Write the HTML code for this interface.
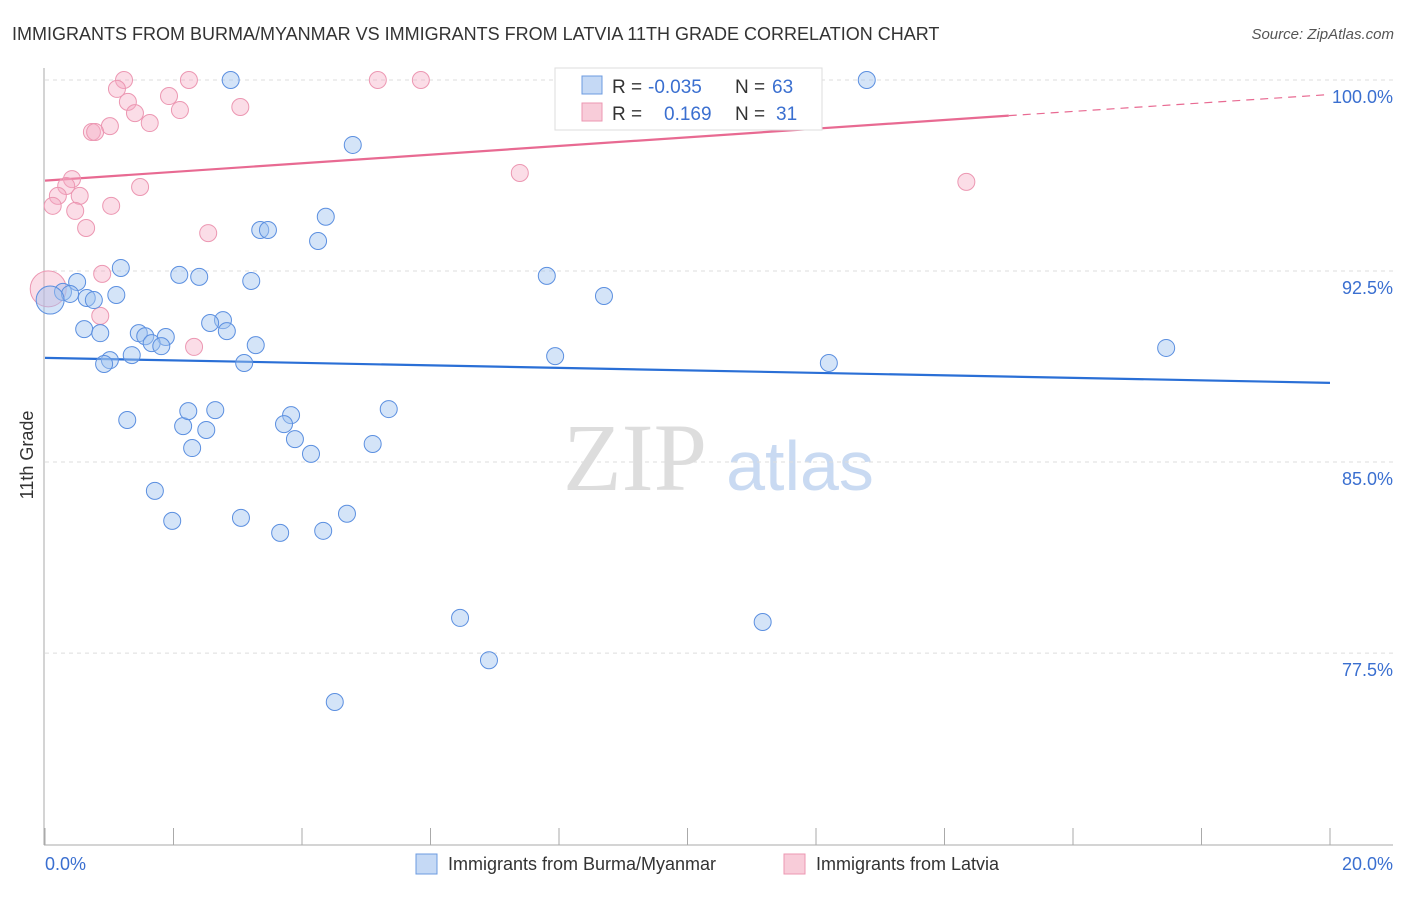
<!DOCTYPE html>
<html><head><meta charset="utf-8"><style>
body{margin:0;background:#fff;font-family:"Liberation Sans",sans-serif;}
</style></head><body>
<svg width="1406" height="892" viewBox="0 0 1406 892" xmlns="http://www.w3.org/2000/svg">
<text x="12" y="40" font-size="18" fill="#333">IMMIGRANTS FROM BURMA/MYANMAR VS IMMIGRANTS FROM LATVIA 11TH GRADE CORRELATION CHART</text>
<text x="1394" y="39" font-size="15" fill="#555" font-style="italic" text-anchor="end">Source: ZipAtlas.com</text>
<g>
<text x="635" y="490" font-size="96" font-family="Liberation Serif,serif" fill="#ddd" text-anchor="middle">ZIP</text>
<text x="800" y="490" font-size="70" fill="#c9daf2" text-anchor="middle">atlas</text>
</g>
<g id="grid"></g>
<g id="axes"></g>
<g id="lines"></g>
<g id="pts"></g>
<text transform="translate(33,455) rotate(-90)" font-size="18" fill="#333" text-anchor="middle">11th Grade</text>
<text x="45" y="870" font-size="18" fill="#3a6fd0">0.0%</text>
<text x="1393" y="870" font-size="18" fill="#3a6fd0" text-anchor="end">20.0%</text>
<g>
<rect x="555" y="68" width="267" height="62" fill="#fff" stroke="#ddd"/>
<rect x="582" y="76" width="20" height="18" fill="#c5d9f5" stroke="#6c9be0"/>
<rect x="582" y="103" width="20" height="18" fill="#f8ccd9" stroke="#ec97b2"/>
<text x="612" y="93" font-size="19" fill="#333">R =</text>
<text x="648" y="93" font-size="19" fill="#3a6fd0">-0.035</text>
<text x="735" y="93" font-size="19" fill="#333">N =</text>
<text x="772" y="93" font-size="19" fill="#3a6fd0">63</text>
<text x="612" y="120" font-size="19" fill="#333">R =</text>
<text x="664" y="120" font-size="19" fill="#3a6fd0">0.169</text>
<text x="735" y="120" font-size="19" fill="#333">N =</text>
<text x="776" y="120" font-size="19" fill="#3a6fd0">31</text>
</g>
<g>
<rect x="416" y="854" width="21" height="20" fill="#c5d9f5" stroke="#6c9be0"/>
<text x="448" y="870" font-size="18" fill="#333">Immigrants from Burma/Myanmar</text>
<rect x="784" y="854" width="21" height="20" fill="#f8ccd9" stroke="#ec97b2"/>
<text x="816" y="870" font-size="18" fill="#333">Immigrants from Latvia</text>
</g>
</svg>
<script>
const yTicks=[100,92.5,85,77.5];
const yTickLabels=["100.0%","92.5%","85.0%","77.5%"];
const xTicks=[0,2,4,6,8,10,12,14,16,18,20];
const blueX=[2.89,12.79,4.79,4.37,3.35,3.47,4.25,1.18,2.09,2.40,7.81,3.21,0.50,0.28,0.39,1.11,0.65,0.76,8.70,0.08,2.77,2.57,0.61,0.86,1.46,2.83,1.56,1.88,1.66,1.81,3.28,1.35,1.01,0.92,3.10,7.94,12.20,17.45,1.28,2.15,2.23,2.65,2.51,2.29,3.83,3.72,5.35,3.89,5.10,4.14,1.71,1.98,3.05,3.66,4.33,4.70,6.46,11.17,6.91,4.51];
const blueY=[100,100,97.45,94.63,94.11,94.11,93.68,92.62,92.35,92.27,92.31,92.11,92.07,91.68,91.60,91.56,91.44,91.36,91.52,91.36,90.57,90.46,90.22,90.06,90.06,90.14,89.94,89.91,89.67,89.55,89.59,89.20,89.00,88.85,88.89,89.16,88.89,89.48,86.65,86.41,87.00,87.04,86.26,85.55,86.84,86.49,87.08,85.90,85.71,85.32,83.87,82.69,82.81,82.22,82.30,82.97,78.88,78.72,77.22,75.58];
const pinkX=[1.23,2.24,5.18,5.85,1.12,1.29,1.93,3.04,2.10,1.40,1.01,1.63,0.73,0.78,7.39,14.34,0.42,0.33,1.48,0.20,0.54,0.12,1.03,0.47,0.64,2.54,0.89,0.86,2.32,0.05];
const pinkY=[100,100,100,100,99.65,99.14,99.37,98.94,98.82,98.70,98.19,98.31,97.96,97.96,96.35,96.00,96.11,95.84,95.80,95.45,95.45,95.06,95.06,94.86,94.19,93.99,92.39,90.74,89.52,91.8];
const blueLine=[89.09,88.11];
const pinkLine=[96.05,98.60,99.43];
const X=v=>45+v*64.25, Y=v=>80+(100-v)*25.47;
const NS="http://www.w3.org/2000/svg";
function mk(parent,tag,attrs){const e=document.createElementNS(NS,tag);for(const k in attrs)e.setAttribute(k,attrs[k]);document.getElementById(parent).appendChild(e);return e;}
yTicks.forEach((t,i)=>{
 const l=mk('grid','line',{x1:45,x2:1393,y1:Y(t),y2:Y(t),stroke:'#ddd','stroke-dasharray':'4,4'});
 
 
 const tx=mk('grid','text',{x:1393,y:Y(t)+23,'font-size':18,fill:'#3a6fd0','text-anchor':'end'});
 tx.textContent=yTickLabels[i];
 
 
});
const ya=mk('axes','line',{x1:44,x2:44,y1:68,y2:845,stroke:'#aaa'});


const xa=mk('axes','line',{x1:44,x2:1393,y1:845,y2:845,stroke:'#aaa'});


xTicks.forEach(t=>{const l=mk('axes','line',{x1:X(t),x2:X(t),y1:828,y2:845,stroke:'#aaa'});
 
 });
const bl=mk('lines','line',{x1:X(0),x2:X(20),y1:Y(blueLine[0]),y2:Y(blueLine[1]),stroke:'#2a6fd6','stroke-width':2.2});


const pl=mk('lines','line',{x1:X(0),x2:X(15),y1:Y(pinkLine[0]),y2:Y(pinkLine[1]),stroke:'#e86a92','stroke-width':2.2});


const pd=mk('lines','line',{x1:X(15),x2:X(20),y1:Y(pinkLine[1]),y2:Y(pinkLine[2]),stroke:'#e86a92','stroke-width':1.2,'stroke-dasharray':'8,6'});


pinkX.forEach((x,i)=>{const c=mk('pts','circle',{cx:X(x),cy:Y(pinkY[i]),r:i==pinkX.length-1?18:8.5,fill:'rgba(245,170,195,0.4)',stroke:'#ec97b2','stroke-width':1});
 
 });
blueX.forEach((x,i)=>{const c=mk('pts','circle',{cx:X(x),cy:Y(blueY[i]),r:i==19?14:8.5,fill:'rgba(160,195,240,0.45)',stroke:'#5b8fe0','stroke-width':1});
 
 });
</script>
</body></html>
